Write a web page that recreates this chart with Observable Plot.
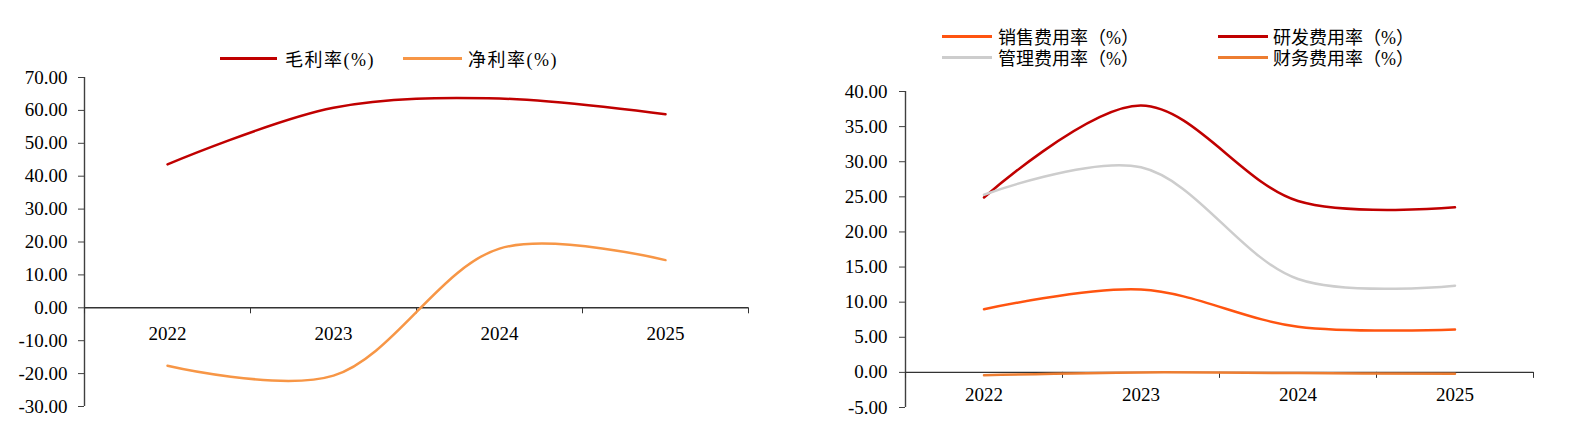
<!DOCTYPE html>
<html><head><meta charset="utf-8">
<script src="https://cdn.jsdelivr.net/npm/d3@7"></script>
<script src="https://cdn.jsdelivr.net/npm/@observablehq/plot@0.6"></script>
<style>
html,body{margin:0;padding:0;overflow:hidden;}
body{background:#fff;width:1578px;height:435px;font-family:"Liberation Serif","Noto Sans CJK SC",serif;}
#wrap{display:flex;width:1578px;}
.col{width:789px;flex:none;position:relative;}
.col svg{max-width:none !important;display:block;}
.legend{position:relative;height:70px;}
.item{position:absolute;display:flex;align-items:center;height:24px;transform:translateY(-50%);font-family:"Liberation Serif","Noto Sans CJK SC",serif;font-size:18px;color:#000;white-space:nowrap;}
#legL .item span:last-child{letter-spacing:1.5px;}
.sw{display:inline-block;height:3px;}
</style>
</head><body>
<div id="wrap">
  <div class="col" id="left"><div class="legend" id="legL"></div></div>
  <div class="col" id="right"><div class="legend" id="legR"></div></div>
</div>
<script>
const years = ["2022", "2023", "2024", "2025"];
// left chart
const grossMargin = [43.6, 60.8, 63.6, 58.8];
const netMargin = [-17.6, -20.6, 18.0, 14.5];
const leftTicks = [-30, -20, -10, 0, 10, 20, 30, 40, 50, 60, 70];
// right chart
const sellingRate = [9.0, 11.8, 6.5, 6.1];
const rdRate = [24.9, 38.0, 24.4, 23.5];
const adminRate = [25.3, 29.2, 13.3, 12.35];
const financeRate = [-0.4, 0.0, -0.1, -0.2];
const rightTicks = [-5, 0, 5, 10, 15, 20, 25, 30, 35, 40];

const leftSeries = [
  {name: "毛利率(%)", values: grossMargin, color: "#C00000"},
  {name: "净利率(%)", values: netMargin, color: "#F79646"}
];
const rightSeries = [
  {name: "销售费用率（%）", values: sellingRate, color: "#FF5410"},
  {name: "研发费用率（%）", values: rdRate, color: "#C00000"},
  {name: "管理费用率（%）", values: adminRate, color: "#CDCDCD"},
  {name: "财务费用率（%）", values: financeRate, color: "#ED7D31"}
];

const fmt = d => d.toFixed(2);
const FONT = '"Liberation Serif","Noto Sans CJK SC",serif';

function chart({series, yDomain, yTicks, width, height, mt, mb, ml, mr, labelDy, tickPadding}) {
  const ph = height - mt - mb;
  const y0 = mt + (yDomain[1] - 0) / (yDomain[1] - yDomain[0]) * ph;
  const dy = y0 - (height - mb);
  return Plot.plot({
    width, height, marginTop: mt, marginBottom: mb, marginLeft: ml, marginRight: mr,
    style: {fontFamily: FONT, fontSize: "19px", color: "#000", overflow: "visible", background: "transparent", maxWidth: "none"},
    x: {domain: [0, years.length], axis: null},
    y: {domain: yDomain, axis: null},
    marks: [
      Plot.axisY({ticks: yTicks, tickFormat: fmt, tickSize: 6, tickPadding, stroke: "#404040", fill: "#000", fontSize: 19, label: null}),
      Plot.ruleX([0], {stroke: "#404040", strokeWidth: 1.4}),
      Plot.ruleY([0], {stroke: "#333", strokeWidth: 1.4}),
      Plot.axisX({ticks: d3.range(years.length + 1), tickFormat: () => "", tickSize: 6, dy, stroke: "#333", label: null}),
      Plot.text(years, {x: (d, i) => i + 0.5, y: () => 0, dy: labelDy, text: d => d, fontSize: 19, fill: "#000"}),
      ...series.map(s => Plot.line(s.values, {x: (d, i) => i + 0.5, y: d => d, stroke: s.color, strokeWidth: 2.5, curve: "catmull-rom"}))
    ]
  });
}

function legendItem(parent, s, left, top, lineW, gap) {
  const div = document.createElement("div");
  div.className = "item";
  div.style.left = left + "px";
  div.style.top = top + "px";
  const sw = document.createElement("span");
  sw.className = "sw";
  sw.style.width = lineW + "px";
  sw.style.background = s.color;
  sw.style.marginRight = gap + "px";
  div.appendChild(sw);
  const t = document.createElement("span");
  t.textContent = s.name;
  div.appendChild(t);
  parent.appendChild(div);
}

const legL = document.getElementById("legL");
legendItem(legL, leftSeries[0], 220, 58, 57, 8);
legendItem(legL, leftSeries[1], 403, 58, 59, 6);

const legR = document.getElementById("legR");
legendItem(legR, rightSeries[0], 153, 36, 50, 6);
legendItem(legR, rightSeries[1], 429, 36, 50, 5);
legendItem(legR, rightSeries[2], 153, 57, 50, 6);
legendItem(legR, rightSeries[3], 429, 57, 50, 5);

document.getElementById("left").appendChild(chart({
  series: leftSeries, yDomain: [-30, 70], yTicks: leftTicks,
  width: 789, height: 365, mt: 7, mb: 29, ml: 84, mr: 41, labelDy: 26, tickPadding: 11
}));
document.getElementById("right").appendChild(chart({
  series: rightSeries, yDomain: [-5, 40], yTicks: rightTicks,
  width: 789, height: 365, mt: 21, mb: 28, ml: 116, mr: 45, labelDy: 23, tickPadding: 12
}));
</script>
</body></html>
